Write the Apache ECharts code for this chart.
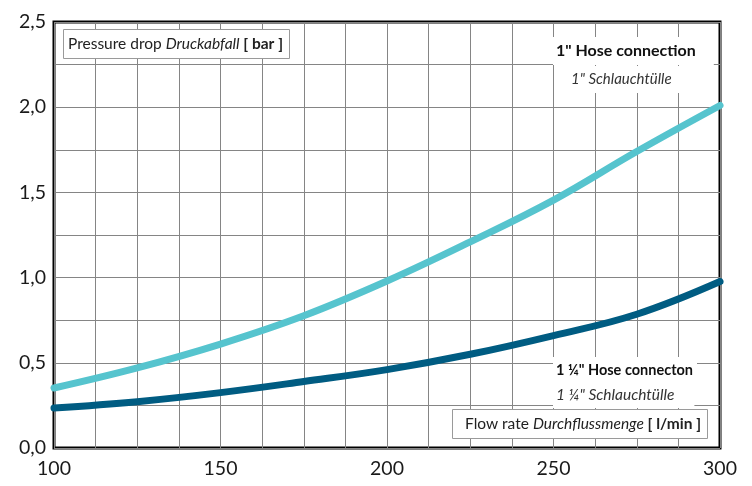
<!DOCTYPE html>
<html>
<head>
<meta charset="utf-8">
<script src="https://cdn.jsdelivr.net/npm/echarts@6/dist/echarts.min.js"></script>
<style>
html,body{margin:0;padding:0;background:#fff;}
#c{width:752px;height:486px;}
</style>
</head>
<body>
<div id="c"></div>
<script>
const flowRates = [100, 125, 150, 175, 200, 225, 250, 275, 300];
const hose1 = [0.352, 0.47, 0.61, 0.776, 0.98, 1.21, 1.455, 1.74, 2.01];
const hose114 = [0.235, 0.272, 0.325, 0.39, 0.46, 0.55, 0.66, 0.785, 0.977];
const yTicks = ['0,0', '0,5', '1,0', '1,5', '2,0', '2,5'];
const xTicks = ['100', '150', '200', '250', '300'];

const FONT = 'Lato';
const chart = echarts.init(document.getElementById('c'));

function pairs(xs, ys) { return xs.map((x, i) => [x, ys[i]]); }

const gridColor = '#858585';
const N = { fontSize: 15.5, color: '#222', fontWeight: 'normal', fontStyle: 'normal', fontFamily: FONT };
const I = { fontSize: 15.5, color: '#222', fontWeight: 'normal', fontStyle: 'italic', fontFamily: FONT };
const B = { fontSize: 15.5, color: '#222', fontWeight: 'bold', fontStyle: 'normal', fontFamily: FONT };

chart.setOption({
  animation: false,
  backgroundColor: '#ffffff',
  textStyle: { fontFamily: FONT },
  grid: { left: 54, right: 32, top: 22, bottom: 38, show: true, borderColor: '#000', borderWidth: 3, backgroundColor: 'transparent' },
  xAxis: {
    type: 'value', min: 100, max: 300, interval: 50,
    axisLine: { show: false },
    axisTick: { show: false },
    minorTick: { show: false, splitNumber: 4 },
    splitLine: { show: true, lineStyle: { color: gridColor, width: 1 } },
    minorSplitLine: { show: true, lineStyle: { color: gridColor, width: 1 } },
    axisLabel: {
      fontSize: 19.5, color: '#1a1a1a', fontFamily: FONT, margin: 11,
      formatter: v => xTicks[Math.round((v - 100) / 50)]
    }
  },
  yAxis: {
    type: 'value', min: 0, max: 2.5, interval: 0.5,
    axisLine: { show: false },
    axisTick: { show: false },
    minorTick: { show: false, splitNumber: 2 },
    splitLine: { show: true, lineStyle: { color: gridColor, width: 1 } },
    minorSplitLine: { show: true, lineStyle: { color: gridColor, width: 1 } },
    axisLabel: {
      fontSize: 19.5, color: '#1a1a1a', fontFamily: FONT, margin: 8,
      formatter: v => yTicks[Math.round(v / 0.5)]
    }
  },
  title: [
    {
      left: 63, top: 29, padding: [7, 7, 7, 5],
      backgroundColor: '#fff', borderColor: '#9a9a9a', borderWidth: 1,
      text: '{n|Pressure drop }{i|Druckabfall}{b| [ bar ]}',
      textStyle: { fontWeight: 'normal', rich: { n: N, i: I, b: B } }
    },
    {
      left: 553, top: 37, padding: [6, 18, 6, 3],
      backgroundColor: '#fff',
      text: '{b|1" Hose connection}',
      textStyle: { fontWeight: 'normal', rich: { b: Object.assign({}, B, { fontSize: 16, color: '#111' }) } }
    },
    {
      left: 560, top: 66, padding: [6, 30, 6, 11],
      backgroundColor: '#fff',
      text: '{i|1" Schlauchtülle}',
      textStyle: { fontWeight: 'normal', rich: { i: Object.assign({}, I, { fontSize: 15, color: '#333' }) } }
    },
    {
      left: 553, top: 357, padding: [6, 4, 5, 3],
      backgroundColor: '#fff',
      text: '{b|1 ¼" Hose connecton}',
      textStyle: { fontWeight: 'normal', rich: { b: Object.assign({}, B, { fontSize: 14.5, color: '#111' }) } }
    },
    {
      left: 553, top: 382, padding: [5, 20, 5, 3],
      backgroundColor: '#fff',
      text: '{i|1 ¼" Schlauchtülle}',
      textStyle: { fontWeight: 'normal', rich: { i: Object.assign({}, I, { fontSize: 15.5, color: '#333' }) } }
    },
    {
      left: 452, top: 409, padding: [7, 7, 7, 13],
      backgroundColor: '#fff', borderColor: '#9a9a9a', borderWidth: 1,
      text: '{n|Flow rate }{i|Durchflussmenge}{b| [ l/min ]}',
      textStyle: { fontWeight: 'normal', rich: { n: N, i: I, b: B } }
    }
  ],
  series: [
    {
      name: '1" Hose connection', type: 'line', smooth: 0.4, symbol: 'none',
      data: pairs(flowRates, hose1),
      lineStyle: { color: '#56c4ce', width: 7, cap: 'round' }, z: 3
    },
    {
      name: '1 ¼" Hose connecton', type: 'line', smooth: 0.4, symbol: 'none',
      data: pairs(flowRates, hose114),
      lineStyle: { color: '#005c82', width: 7, cap: 'round' }, z: 3
    }
  ]
});
</script>
</body>
</html>
